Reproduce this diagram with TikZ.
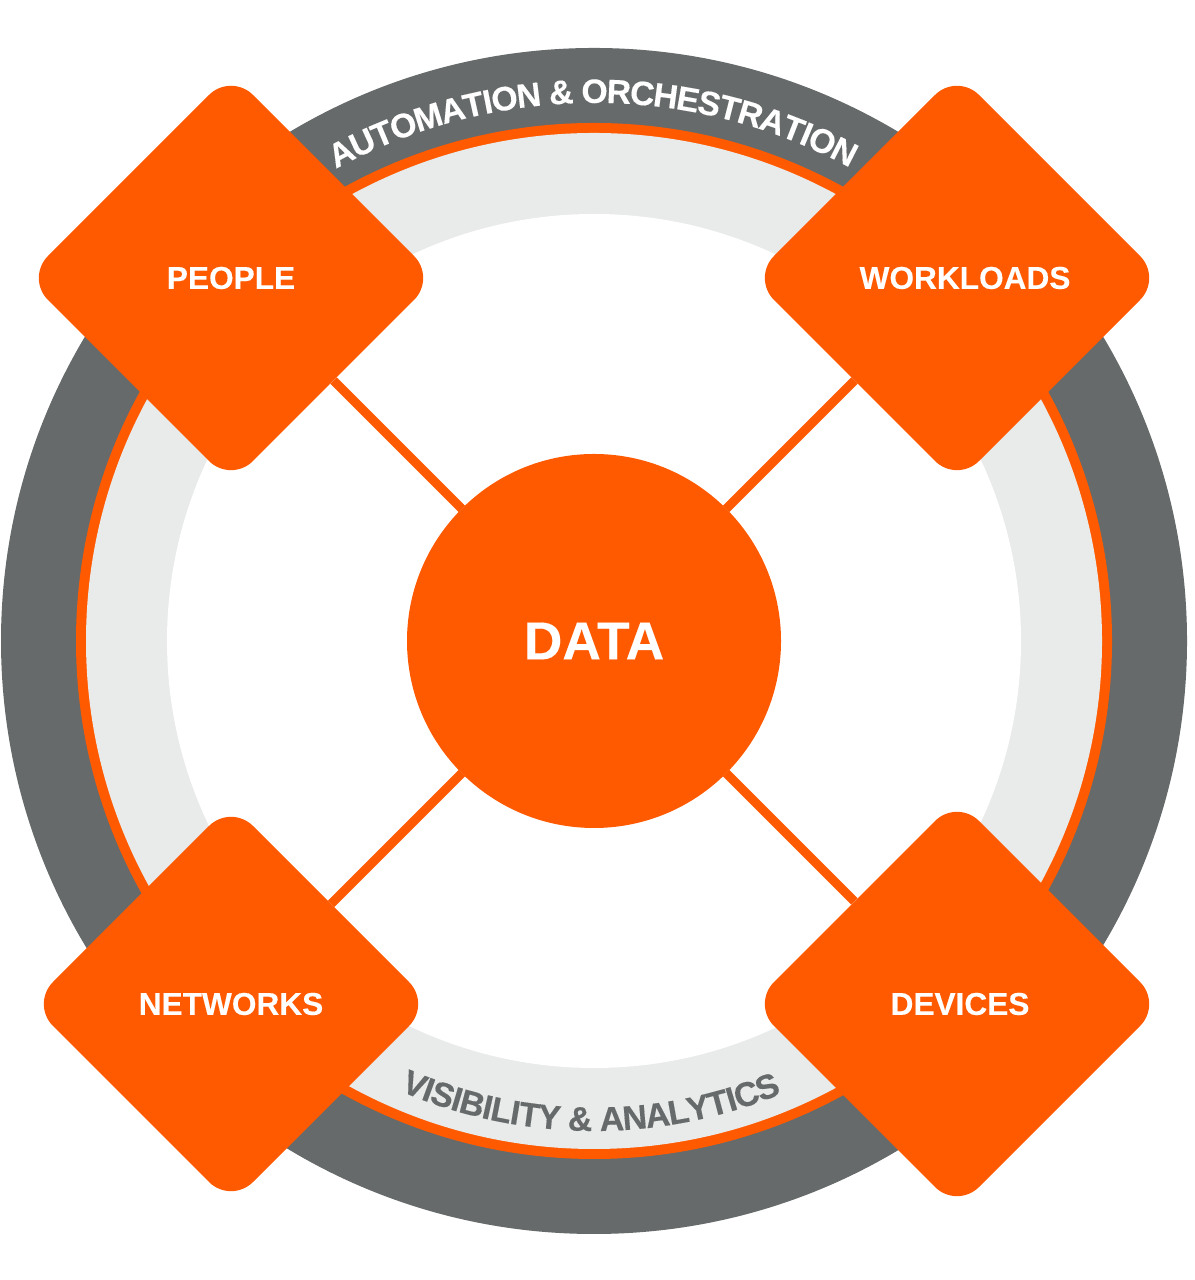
\documentclass[tikz,border=0pt]{standalone}
\usepackage{fontspec}
\setmainfont{Liberation Sans}[BoldFeatures={FakeBold=0.25}]
\usetikzlibrary{shapes.geometric,decorations.text}
\definecolor{ringgray}{HTML}{666A6A}
\definecolor{ringlight}{HTML}{E9EAEA}
\definecolor{zorange}{HTML}{FF5A00}
\tikzset{
	pillar/.style={diamond,fill=zorange,inner sep=0,outer sep=0,aspect=1,
		rounded corners=.31cm,minimum size=#1},
	tag/.style={text=white,font=\fontsize{9}{11}\selectfont\bfseries,inner sep=0},
	spoke/.style={draw=zorange,line width=.09cm}
}
\begin{document}
\begin{tikzpicture}
	\useasboundingbox (0, 0) rectangle (11.94, 12.8);
	\coordinate (hub) at (5.94, 6.39);
	\fill[ringgray](hub) circle (5.93);
	\fill[zorange](hub) circle (5.18);
	\fill[ringlight](hub) circle (5.08);
	\fill[white](hub) circle (4.27);
	% the two arc labels, raised off a wider arc to close up the letters
	\path[decorate,decoration={text along path,text align=center,raise=-.32cm,
		text format delimiters={|}{|},
		text={|\color{white}\fontsize{9.6}{11}\selectfont\bfseries|AUTOMATION {\&} ORCHESTRATION}}]
		(hub) ++(150.15:5.70) arc (150.15:30.15:5.70);
	\path[decorate,decoration={text along path,text align=center,raise=.25cm,
		text format delimiters={|}{|},
		text={|\color{ringgray}\fontsize{9.7}{11}\selectfont\bfseries|VISIBILITY {\&} ANALYTICS}}]
		(hub) ++(239.6:5.15) arc (239.6:299.6:5.15);
	\node[circle,fill=zorange,inner sep=0,outer sep=0,minimum size=3.74cm,text=white,
		font=\fontsize{15.2}{17}\selectfont\bfseries] (data) at (hub) {DATA};
	\node[pillar=4.10cm] (people) at (2.31, 10.02) {};
	\node[pillar=4.10cm] (workloads) at (9.57, 10.02) {};
	\node[pillar=4.00cm] (networks) at (2.31, 2.76) {};
	\node[pillar=4.10cm] (devices) at (9.57, 2.76) {};
	\node[tag] (peopletag) at (people) {PEOPLE};
	\node[tag] (workloadstag) at (9.65, 10.02) {WORKLOADS};
	\node[tag] (networkstag) at (networks) {NETWORKS};
	\node[tag] (devicestag) at (9.60, 2.76) {DEVICES};
	\foreach \p in {people,workloads,networks,devices}
	{
		\draw[spoke](data) -- (\p);
	}
\end{tikzpicture}
\end{document}
